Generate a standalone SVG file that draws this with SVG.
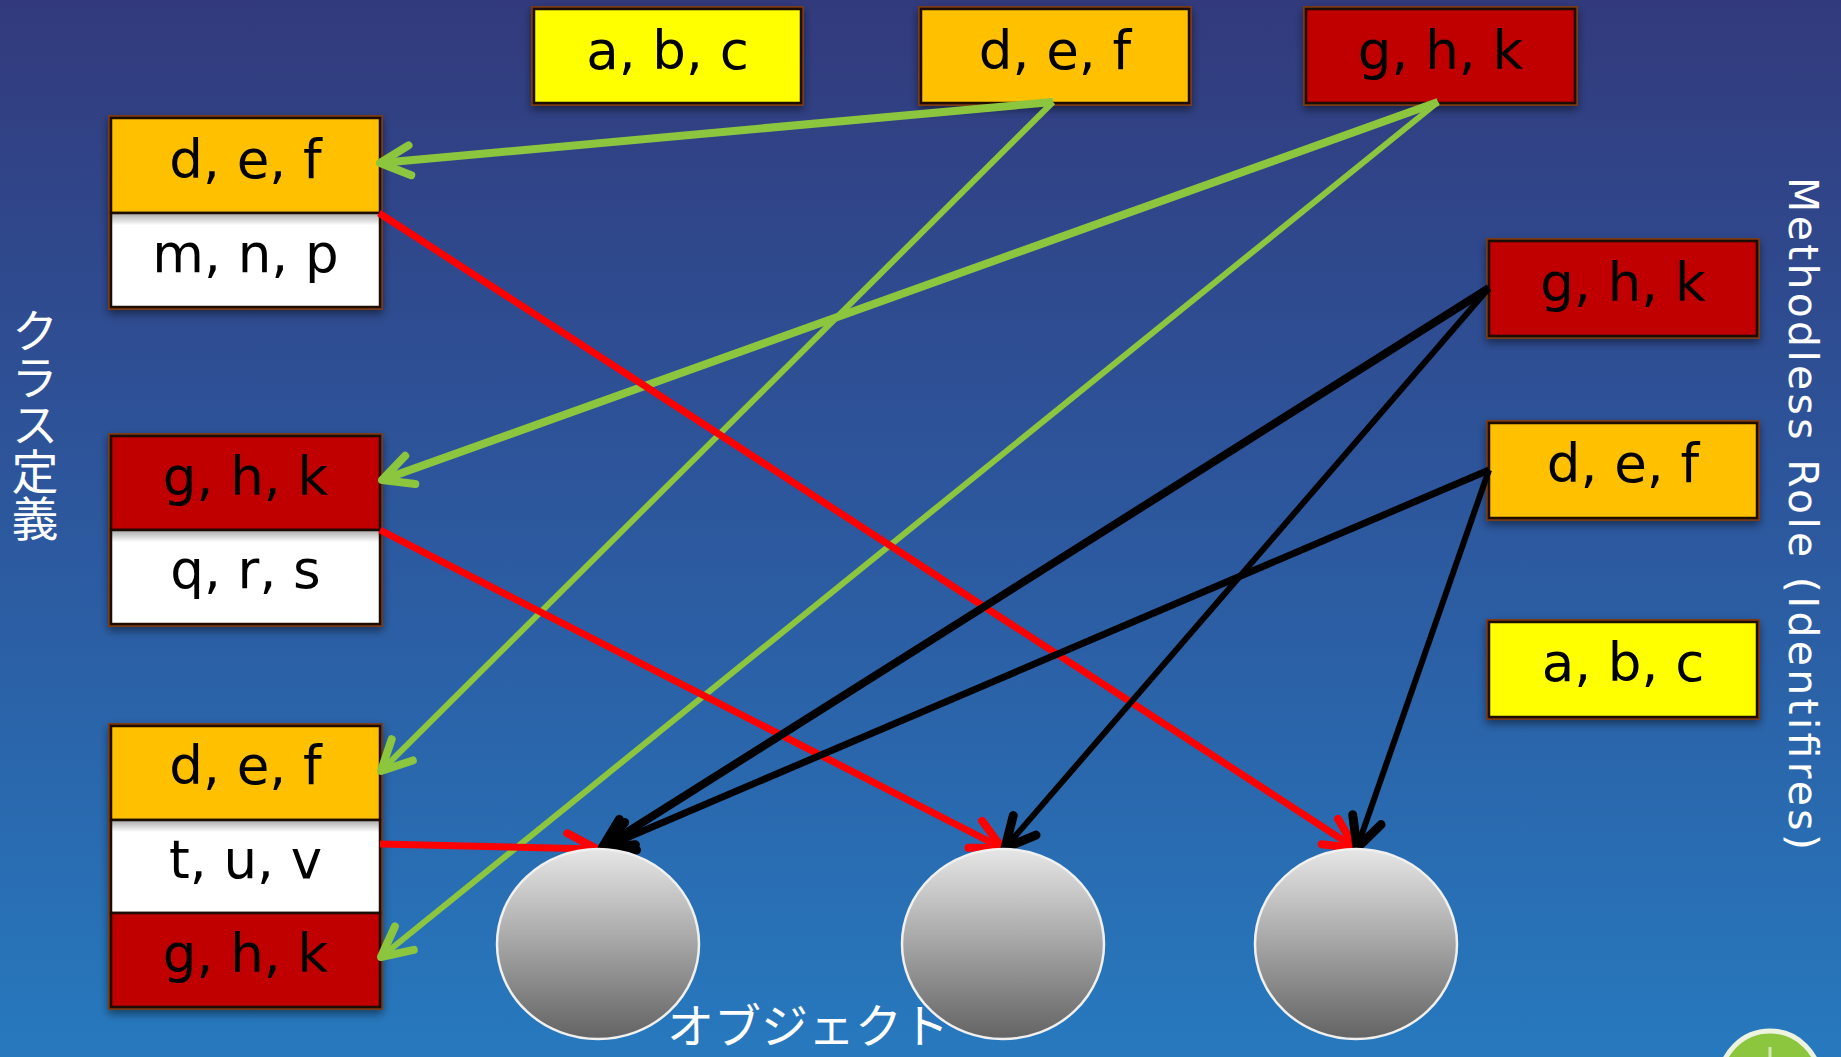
<svg xmlns="http://www.w3.org/2000/svg" width="1841" height="1057" viewBox="0 0 1841 1057">
<defs>
<linearGradient id="bg" x1="0" y1="0" x2="0" y2="1">
<stop offset="0" stop-color="#323a7c"/>
<stop offset="0.45" stop-color="#2d559b"/>
<stop offset="1" stop-color="#2779be"/>
</linearGradient>
<linearGradient id="ball" x1="0" y1="0" x2="0" y2="1">
<stop offset="0" stop-color="#e6e6e6"/>
<stop offset="1" stop-color="#636363"/>
</linearGradient>
<linearGradient id="wht" x1="0" y1="0" x2="0" y2="1">
<stop offset="0" stop-color="#a8a8a8"/>
<stop offset="0.13" stop-color="#ffffff"/>
<stop offset="1" stop-color="#ffffff"/>
</linearGradient>
<filter id="sh" x="-10%" y="-10%" width="120%" height="130%">
<feDropShadow dx="0" dy="4" stdDeviation="4" flood-color="#000" flood-opacity="0.45"/>
</filter>
<marker id="ag" viewBox="-40 -25 50 50" refX="0" refY="0" markerWidth="50" markerHeight="50" orient="auto" markerUnits="userSpaceOnUse">
<path d="M-30,-15 L0,0 L-30,15" fill="none" stroke="#8cc63f" stroke-width="8" stroke-linecap="round" stroke-linejoin="round"/>
</marker>
<marker id="ar" viewBox="-40 -25 50 50" refX="0" refY="0" markerWidth="50" markerHeight="50" orient="auto" markerUnits="userSpaceOnUse">
<path d="M-30,-15 L0,0 L-30,15" fill="none" stroke="#ff0000" stroke-width="8" stroke-linecap="round" stroke-linejoin="round"/>
</marker>
<marker id="ak" viewBox="-40 -25 50 50" refX="0" refY="0" markerWidth="50" markerHeight="50" orient="auto" markerUnits="userSpaceOnUse">
<path d="M-30,-15 L0,0 L-30,15" fill="none" stroke="#000000" stroke-width="9" stroke-linecap="round" stroke-linejoin="round"/>
</marker>
</defs>
<style>
.box{stroke:#1c0c02;stroke-width:2.5;}
.edge{fill:none;stroke:#7a3a14;stroke-width:2;}
.y{fill:#ffff00;}
.o{fill:#ffc000;}
.r{fill:#c00000;}
.w{fill:url(#wht);}
.lbl{font-family:"DejaVu Sans","Verdana",sans-serif;font-size:53px;fill:#000;text-anchor:middle;}
.g{stroke:#8cc63f;fill:none;marker-end:url(#ag);}
.rd{stroke:#ff0000;fill:none;stroke-width:7;marker-end:url(#ar);}
.k{stroke:#000;fill:none;marker-end:url(#ak);}
.ball{fill:url(#ball);stroke:#f0f0f0;stroke-width:2.5;}
.jp{font-family:"Noto Sans CJK JP","Noto Sans CJK SC",sans-serif;fill:#fff;}
</style>
<rect x="0" y="0" width="1841" height="1057" fill="url(#bg)"/>

<g id="top-abc" filter="url(#sh)">
<rect class="edge" x="532" y="7" width="271" height="98"/>
<rect class="box y" x="534" y="9" width="267" height="94"/>
<text class="lbl" x="667.5" y="69">a, b, c</text>
</g>
<g id="top-def" filter="url(#sh)">
<rect class="edge" x="919" y="7" width="272" height="98"/>
<rect class="box o" x="921" y="9" width="268" height="94"/>
<text class="lbl" x="1055" y="69">d, e, f</text>
</g>
<g id="top-ghk" filter="url(#sh)">
<rect class="edge" x="1304" y="7" width="273" height="98"/>
<rect class="box r" x="1306" y="9" width="269" height="94"/>
<text class="lbl" x="1440.5" y="69">g, h, k</text>
</g>

<g id="class1" filter="url(#sh)">
<rect class="edge" x="109" y="116" width="273" height="193"/>
<rect class="box o" x="111" y="118" width="269" height="95"/>
<rect class="box w" x="111" y="213" width="269" height="94"/>
<text class="lbl" x="245.5" y="178">d, e, f</text>
<text class="lbl" x="245.5" y="272">m, n, p</text>
</g>
<g id="class2" filter="url(#sh)">
<rect class="edge" x="109" y="434" width="273" height="192"/>
<rect class="box r" x="111" y="436" width="269" height="94"/>
<rect class="box w" x="111" y="530" width="269" height="94"/>
<text class="lbl" x="245.5" y="495">g, h, k</text>
<text class="lbl" x="245.5" y="588">q, r, s</text>
</g>
<g id="class3" filter="url(#sh)">
<rect class="edge" x="109" y="724" width="273" height="285"/>
<rect class="box o" x="111" y="726" width="269" height="94"/>
<rect class="box w" x="111" y="820" width="269" height="93"/>
<rect class="box r" x="111" y="913" width="269" height="94"/>
<text class="lbl" x="245.5" y="784">d, e, f</text>
<text class="lbl" x="245.5" y="878">t, u, v</text>
<text class="lbl" x="245.5" y="972">g, h, k</text>
</g>

<g id="role-ghk" filter="url(#sh)">
<rect class="edge" x="1487" y="239" width="272" height="99"/>
<rect class="box r" x="1489" y="241" width="268" height="95"/>
<text class="lbl" x="1623" y="301">g, h, k</text>
</g>
<g id="role-def" filter="url(#sh)">
<rect class="edge" x="1487" y="421" width="272" height="99"/>
<rect class="box o" x="1489" y="423" width="268" height="95"/>
<text class="lbl" x="1623" y="482">d, e, f</text>
</g>
<g id="role-abc" filter="url(#sh)">
<rect class="edge" x="1487" y="620" width="272" height="99"/>
<rect class="box y" x="1489" y="622" width="268" height="95"/>
<text class="lbl" x="1623" y="681">a, b, c</text>
</g>

<g id="connectors">
<path class="g" stroke-width="8" d="M1053,102 L380,163"/>
<path class="g" stroke-width="6" d="M1053,102 L381,771"/>
<path class="g" stroke-width="8" d="M1438,102 L382,480"/>
<path class="g" stroke-width="6" d="M1438,102 L381,957"/>
<path class="rd" d="M379,213 L1355,848"/>
<path class="rd" d="M380,530 L1002,848"/>
<path class="rd" d="M380,844 L597,849"/>
<path class="k" stroke-width="8" d="M1489,288 L602,848"/>
<path class="k" stroke-width="6" d="M1489,288 L1005,848"/>
<path class="k" stroke-width="7" d="M1489,470 L603,848"/>
<path class="k" stroke-width="6" d="M1489,470 L1357,848"/>
</g>

<g id="obj1"><ellipse class="ball" cx="598" cy="944" rx="101" ry="95"/></g>
<g id="obj2"><ellipse class="ball" cx="1003" cy="944" rx="101" ry="95"/></g>
<g id="obj3"><ellipse class="ball" cx="1356" cy="944" rx="101" ry="95"/></g>

<text class="jp" x="35" y="307" font-size="47" style="writing-mode:vertical-rl">クラス定義</text>
<text class="jp" x="667" y="1043" font-size="47">オブジェクト</text>
<text font-family="DejaVu Sans, Verdana, sans-serif" font-size="41" fill="#fff" transform="translate(1789,177) rotate(90)" textLength="673" lengthAdjust="spacing">Methodless Role (Identifires)</text>

<g id="corner-button">
<circle cx="1770" cy="1081" r="50" fill="#8cc63e" stroke="#eef3e0" stroke-width="5"/>
<line x1="1770" y1="1047" x2="1770" y2="1057" stroke="#e8f0d8" stroke-width="3" opacity="0.8"/>
</g>
</svg>
